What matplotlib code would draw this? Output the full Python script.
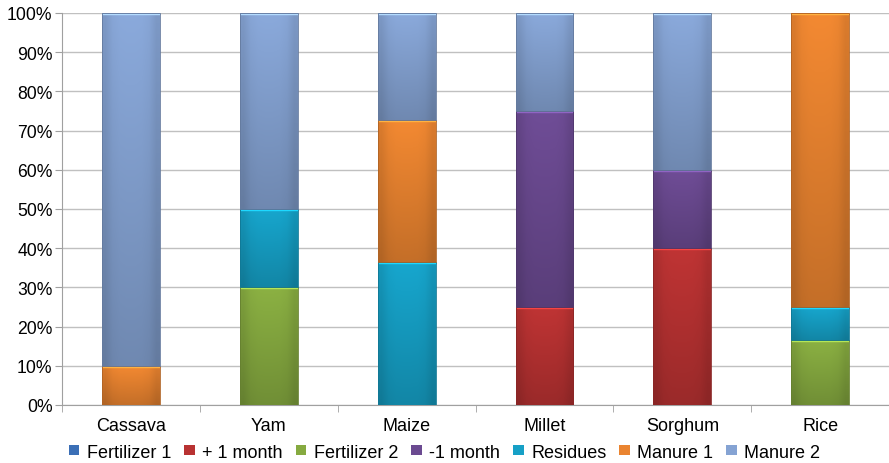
import numpy as np
import matplotlib
matplotlib.use("Agg")
import matplotlib.pyplot as plt
from matplotlib.colors import to_rgb
from matplotlib.patches import Patch

plt.rcParams['font.family'] = ['Liberation Sans', 'DejaVu Sans']

crops = ["Cassava", "Yam", "Maize", "Millet", "Sorghum", "Rice"]
series = ["Fertilizer 1", "+ 1 month", "Fertilizer 2", "-1 month", "Residues", "Manure 1", "Manure 2"]

# share of each practice per crop (%)
fertilizer_1 = [0, 0, 0, 0, 0, 0]
plus_1_month = [0, 0, 0, 25, 40, 0]
fertilizer_2 = [0, 30, 0, 0, 0, 16.7]
minus_1_month = [0, 0, 0, 50, 20, 0]
residues = [0, 20, 36.4, 0, 0, 8.3]
manure_1 = [10, 0, 36.4, 0, 0, 75]
manure_2 = [90, 50, 27.2, 25, 40, 0]

values = [fertilizer_1, plus_1_month, fertilizer_2, minus_1_month, residues, manure_1, manure_2]
colors = ["#3b6fb6", "#b83232", "#86aa40", "#6b4a91", "#16a0c6", "#ea8430", "#85a3d3"]

fig = plt.figure(figsize=(8.89, 4.64), dpi=100)
ax = fig.add_axes([0.070, 0.125, 0.930, 0.845])

x = np.arange(len(crops))
width = 0.42
bottom = np.zeros(len(crops))


def shade(c, f):
    r = np.array(to_rgb(c))
    return np.clip(r * f, 0, 1)


for vals, col in zip(values, colors):
    vals = np.array(vals, dtype=float)
    bars = ax.bar(x, vals, width, bottom=bottom, color=col, edgecolor="none", zorder=2)
    for b, v in zip(bars, vals):
        if v <= 0:
            continue
        x0, y0 = b.get_x(), b.get_y()
        w, h = b.get_width(), b.get_height()
        # vertical gradient: lighter at top, darker at bottom
        t = np.linspace(0, 1, 64)[:, None]
        top = shade(col, 1.04)
        bot = shade(col, 0.84)
        grad = bot[None, None, :] * (1 - t[..., None]) + top[None, None, :] * t[..., None]
        grad = np.repeat(grad, 8, axis=1)
        # subtle horizontal shading at edges
        hx = np.linspace(0, 1, 8)
        edge = 1 - 0.10 * (np.abs(hx - 0.5) * 2) ** 4
        grad = np.clip(grad * edge[None, :, None], 0, 1)
        im = ax.imshow(grad, extent=[x0, x0 + w, y0, y0 + h], origin="lower",
                       aspect="auto", zorder=3, interpolation="bilinear")
        im.set_clip_path(b)
        # thin light line along the top of each segment
        ax.plot([x0, x0 + w], [y0 + h - 0.25, y0 + h - 0.25],
                color=shade(col, 1.35), lw=1.0, zorder=4, solid_capstyle="butt")
        ax.add_patch(plt.Rectangle((x0, y0), w, h, fill=False,
                                   edgecolor=shade(col, 0.75), lw=0.6, zorder=4))
    bottom += vals

ax.set_xlim(-0.5, len(crops) - 0.5)
ax.set_ylim(0, 100)
ax.set_yticks(np.arange(0, 101, 10))
ax.set_yticklabels([f"{v}%" for v in range(0, 101, 10)], fontsize=12.7)
ax.set_xticks(x)
ax.set_xticklabels(crops, fontsize=13)
ax.set_xticks(np.arange(-0.5, len(crops), 1), minor=True)
ax.tick_params(axis="x", which="major", length=0, pad=9)
ax.tick_params(axis="x", which="minor", length=5, color="#a0a0a0")
ax.tick_params(axis="y", length=5, color="#a0a0a0", pad=2)

ax.grid(axis="y", color="#c0c0c0", lw=1.0, zorder=0)
ax.set_axisbelow(True)
for s in ["top", "right"]:
    ax.spines[s].set_visible(False)
ax.spines["left"].set_color("#a0a0a0")
ax.spines["bottom"].set_color("#a0a0a0")

handles = [Patch(facecolor=c, edgecolor="none") for c in colors]
fig.legend(handles, series, loc="lower center", bbox_to_anchor=(0.50, -0.03), ncol=7,
           frameon=False, fontsize=13, handlelength=0.6, handleheight=0.45,
           handletextpad=0.4, columnspacing=0.72)

fig.savefig("out.png", dpi=100)
